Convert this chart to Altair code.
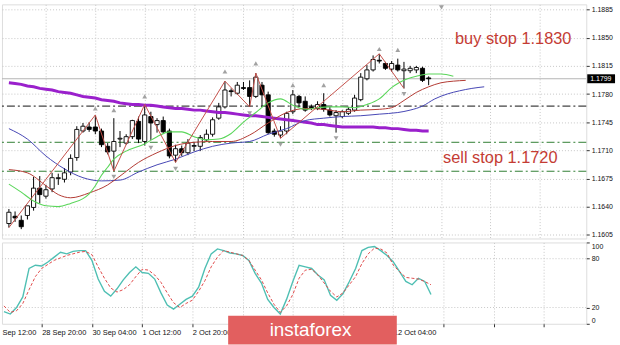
import json
import altair as alt
import pandas as pd

# ---------------- data ----------------
opens = [1.1619, 1.1628, 1.1623, 1.1629, 1.1639, 1.1663, 1.1653, 1.1662, 1.1675, 1.1674,
         1.1683, 1.1701, 1.1734, 1.1739, 1.1739, 1.1734, 1.1715, 1.1709, 1.1724, 1.1719,
         1.1727, 1.1746, 1.1721, 1.1752, 1.1742, 1.1747, 1.1734, 1.1704, 1.1712, 1.1707,
         1.1715, 1.1715, 1.1723, 1.1730, 1.1750, 1.1764, 1.1784, 1.1781, 1.1788, 1.1788,
         1.1777, 1.1791, 1.1779, 1.1734, 1.1729, 1.1734, 1.1758, 1.1777, 1.1771, 1.1764,
         1.1762, 1.1767, 1.1760, 1.1753, 1.1752, 1.1756, 1.1760, 1.1773, 1.1799, 1.1810,
         1.1822, 1.1818, 1.1811, 1.1816, 1.1809, 1.1809, 1.1810, 1.1812, 1.1800]
highs = [1.1637, 1.1634, 1.1629, 1.1637, 1.1677, 1.1678, 1.1667, 1.1682, 1.1681, 1.1688,
         1.1705, 1.1740, 1.1744, 1.1745, 1.1754, 1.1737, 1.1719, 1.1750, 1.1734, 1.1730,
         1.1748, 1.1752, 1.1767, 1.1758, 1.1750, 1.1752, 1.1737, 1.1717, 1.1716, 1.1724,
         1.1720, 1.1729, 1.1736, 1.1751, 1.1769, 1.1796, 1.1787, 1.1795, 1.1795, 1.1797,
         1.1806, 1.1795, 1.1783, 1.1737, 1.1740, 1.1758, 1.1785, 1.1779, 1.1777, 1.1767,
         1.1771, 1.1781, 1.1764, 1.1760, 1.1760, 1.1764, 1.1779, 1.1806, 1.1816, 1.1828,
         1.1830, 1.1820, 1.1821, 1.1824, 1.1820, 1.1815, 1.1815, 1.1814, 1.1802]
lows = [1.1614, 1.1621, 1.1612, 1.1624, 1.1635, 1.1644, 1.1650, 1.1658, 1.1667, 1.1670,
        1.1679, 1.1697, 1.1732, 1.1733, 1.1730, 1.1714, 1.1705, 1.1684, 1.1714, 1.1717,
        1.1724, 1.1719, 1.1716, 1.1723, 1.1732, 1.1731, 1.1700, 1.1695, 1.1703, 1.1704,
        1.1709, 1.1709, 1.1721, 1.1727, 1.1748, 1.1762, 1.1777, 1.1779, 1.1785, 1.1764,
        1.1775, 1.1764, 1.1730, 1.1727, 1.1725, 1.1730, 1.1755, 1.1764, 1.1758, 1.1760,
        1.1760, 1.1758, 1.1752, 1.1732, 1.1750, 1.1754, 1.1758, 1.1771, 1.1797, 1.1808,
        1.1818, 1.1810, 1.1808, 1.1808, 1.1787, 1.1806, 1.1806, 1.1795, 1.1791]
closes = [1.1633, 1.1626, 1.1615, 1.1641, 1.1663, 1.1655, 1.1661, 1.1676, 1.1676, 1.1682,
          1.1700, 1.1736, 1.1740, 1.1736, 1.1734, 1.1717, 1.1708, 1.1721, 1.1725, 1.1727,
          1.1747, 1.1724, 1.1754, 1.1744, 1.1747, 1.1733, 1.1703, 1.1712, 1.1707, 1.1719,
          1.1716, 1.1726, 1.1730, 1.1748, 1.1764, 1.1785, 1.1783, 1.1791, 1.1787, 1.1777,
          1.1801, 1.1779, 1.1732, 1.1730, 1.1734, 1.1756, 1.1779, 1.1769, 1.1760, 1.1763,
          1.1767, 1.1761, 1.1754, 1.1757, 1.1758, 1.1761, 1.1775, 1.1801, 1.1810, 1.1823,
          1.1821, 1.1812, 1.1818, 1.1810, 1.1811, 1.1812, 1.1813, 1.1797, 1.1799]

stoch_k = [15, 12, 20, 33, 68, 72, 71, 76, 82, 88, 86, 89, 90, 90, 78, 55, 40, 34, 43, 54,
           63, 70, 63, 62, 55, 38, 23, 18, 24, 30, 34, 45, 68, 86, 92, 90, 87, 86, 84, 78,
           62, 50, 30, 20, 12, 30, 52, 72, 70, 68, 60, 54, 35, 29, 37, 52, 68, 90, 94, 95,
           90, 84, 76, 64, 52, 48, 56, 52, 36]
stoch_d = [22, 14, 16, 25, 42, 58, 68, 73, 78, 81, 84, 86, 88, 89, 85, 70, 56, 44, 39, 42,
           48, 58, 67, 66, 60, 51, 38, 26, 20, 25, 29, 40, 53, 70, 82, 90, 88, 86, 84, 78,
           66, 54, 38, 24, 14, 22, 36, 56, 66, 67, 60, 50, 40, 33, 38, 48, 58, 74, 86, 93,
           92, 87, 72, 64, 57, 56, 55, 52, 48]

ma_purple = [1.1794, 1.1793, 1.1792, 1.1790, 1.1789, 1.1787, 1.1786, 1.1785, 1.1783, 1.1782,
             1.1781, 1.1779, 1.1777, 1.1776, 1.1775, 1.1773, 1.1772, 1.1771, 1.1769, 1.1768,
             1.1767, 1.1767, 1.1766, 1.1766, 1.1765, 1.1764, 1.1763, 1.1762, 1.1762, 1.1761,
             1.1760, 1.1760, 1.1759, 1.1758, 1.1757, 1.1757, 1.1756, 1.1755, 1.1754, 1.1753,
             1.1753, 1.1752, 1.1751, 1.1750, 1.1749, 1.1748, 1.1747, 1.1746, 1.1745, 1.1744,
             1.1742, 1.1742, 1.1741, 1.1740, 1.1739, 1.1739, 1.1739, 1.1739, 1.1739, 1.1739,
             1.1738, 1.1738, 1.1737, 1.1737, 1.1736, 1.1735, 1.1735, 1.1734, 1.1734]

ma_blue_i = [0, 3, 6, 9, 12, 15, 18, 21, 24, 27, 30, 33, 36, 39, 42, 45, 48, 51, 54, 57,
             60, 63, 65, 67, 69, 71, 73, 75, 77]
ma_blue_p = [1.1737, 1.1724, 1.1703, 1.1687, 1.1676, 1.1672, 1.1673, 1.1683, 1.1692, 1.1699,
             1.1708, 1.1715, 1.1719, 1.1721, 1.1730, 1.1737, 1.1747, 1.1750, 1.1752, 1.1753,
             1.1755, 1.1757, 1.1760, 1.1765, 1.1774, 1.1780, 1.1784, 1.1787, 1.1789]

ma_red_i = [0, 3, 6, 8, 10, 13, 16, 18, 21, 24, 27, 30, 33, 36, 39, 42, 45, 48, 51, 54,
            57, 60, 62, 64, 66, 68, 70, 72, 74]
ma_red_p = [1.1686, 1.1682, 1.1666, 1.1655, 1.1651, 1.1657, 1.1667, 1.1678, 1.1695, 1.1707,
            1.1716, 1.1720, 1.1721, 1.1721, 1.1729, 1.1744, 1.1757, 1.1762, 1.1761, 1.1758,
            1.1760, 1.1761, 1.1763, 1.1772, 1.1782, 1.1789, 1.1794, 1.1796, 1.1797]

ma_green_i = [0, 2, 4, 6, 8, 10, 12, 13, 14, 15, 16, 17, 19, 22, 24, 26, 28, 30, 32, 34,
              36, 38, 40, 42, 44, 46, 48, 50, 52, 54, 56, 58, 60, 62, 63, 64, 66, 68, 70, 72]
ma_green_p = [1.1668, 1.1658, 1.1647, 1.1641, 1.1640, 1.1644, 1.1650, 1.1656, 1.1666, 1.1679,
              1.1689, 1.1699, 1.1709, 1.1718, 1.1727, 1.1733, 1.1733, 1.1727, 1.1723, 1.1724,
              1.1731, 1.1745, 1.1757, 1.1769, 1.1774, 1.1766, 1.1761, 1.1763, 1.1764, 1.1764,
              1.1763, 1.1767, 1.1774, 1.1788, 1.1793, 1.1797, 1.1802, 1.1805, 1.1805, 1.1802]

zigzag_i = [0, 14, 17, 22, 27, 35, 39, 40, 44, 60, 64]
zigzag_p = [1.1614, 1.1754, 1.1684, 1.1767, 1.1695, 1.1796, 1.1764, 1.1806, 1.1725, 1.1830, 1.1787]

fractal_up_i = [14, 17, 22, 35, 40, 46, 51, 60, 63]
fractal_up_p = [1.1762, 1.1760, 1.1777, 1.1808, 1.1818, 1.1791, 1.1791, 1.1836, 1.1835]
fractal_dn_i = [17, 23, 27, 39, 44, 53, 64]
fractal_dn_p = [1.1677, 1.1713, 1.1687, 1.1756, 1.1717, 1.1725, 1.1780]

bid_price = 1.1799
bid_label = "1.1799"
level_black = [1.1765]
level_green = [1.1720, 1.1684]
stoch_levels = [20, 80]

price_ticks = [1.1885, 1.1850, 1.1815, 1.1780, 1.1745, 1.1710, 1.1675, 1.1640, 1.1605]
stoch_ticks = [0, 20, 80, 100]
x_tick_idx = [6, 14, 22, 30, 38, 46, 54, 62, 70, 78, 86]
# labels at 6 Oct 04:00, 7 Oct 12:00 and 8 Oct 20:00 are hidden under the banner in the reference
x_tick_labels = ["28 Sep 20:00", "30 Sep 04:00", "1 Oct 12:00", "2 Oct 20:00",
                 "", "", "", "12 Oct 04:00"]
first_label = "Sep 12:00"  # truncated "25 Sep 12:00" at the left edge

notes_text = ["buy stop 1.1830", "sell stop 1.1720"]
notes_i = [81.7, 79.6]
notes_p = [1.1849, 1.1701]

# ---------------- layout ----------------
W, H1, H2 = 589, 236, 82
FONT = "Liberation Sans"
GRID = "#c6c6c6"
DASH = [1, 2]

xs = alt.Scale(domain=[-0.316, 92.73], nice=False, zero=False)
ps = alt.Scale(domain=[1.16004, 1.18915], nice=False, zero=False)
ss = alt.Scale(domain=[0, 100], nice=False, zero=False)

x_top_axis = alt.Axis(values=x_tick_idx, grid=True, gridDash=DASH, gridColor=GRID,
                      labels=False, ticks=False, domain=False, title=None)
y_top_axis = alt.Axis(orient="right", values=price_ticks, format=".4f", grid=True,
                      gridDash=DASH, gridColor=GRID, tickSize=3, tickColor="#333333",
                      labelPadding=2, labelFontSize=7, labelColor="#111111",
                      labelFont=FONT, domain=False, title=None)

step = x_tick_idx[1] - x_tick_idx[0]
last_lab = x_tick_idx[len(x_tick_labels) - 1]
label_expr = (f"datum.value <= {last_lab} ? {json.dumps(x_tick_labels)}"
              f"[round((datum.value - {x_tick_idx[0]}) / {step})] : ''")
x_bot_axis = alt.Axis(values=x_tick_idx, grid=True, gridDash=DASH, gridColor=GRID,
                      labelExpr=label_expr, labelAlign="left",
                      labelFontSize=7.5, labelFont=FONT, labelColor="#111111",
                      labelOverlap=False, tickSize=3, tickColor="#333333",
                      labelPadding=2, domain=False, title=None)
y_bot_axis = alt.Axis(orient="right", values=stoch_ticks, labelFlush=True, grid=False,
                      tickSize=3, tickColor="#333333", labelPadding=2, labelFontSize=7,
                      labelFont=FONT, labelColor="#111111", domain=False, title=None)


def X(field="i"):
    return alt.X(f"{field}:Q", scale=xs, axis=x_top_axis)


def P(field="p"):
    return alt.Y(f"{field}:Q", scale=ps, axis=y_top_axis)


def XB(field="i"):
    return alt.X(f"{field}:Q", scale=xs, axis=x_bot_axis)


def S(field="v"):
    return alt.Y(f"{field}:Q", scale=ss, axis=y_bot_axis)


idx = list(range(len(opens)))
cd = pd.DataFrame(dict(i=idx, open=opens, high=highs, low=lows, close=closes))
cd["dir"] = ["up" if c >= o else "down" for o, c in zip(opens, closes)]

# horizontal level lines
bid_line = alt.Chart(pd.DataFrame({"p": [bid_price]})).mark_rule(
    color="#b4b4b4", strokeWidth=1).encode(y=P())
black_line = alt.Chart(pd.DataFrame({"p": level_black})).mark_rule(
    color="#111111", strokeWidth=1, strokeDash=[8, 3, 2, 3]).encode(y=P())
green_line = alt.Chart(pd.DataFrame({"p": level_green})).mark_rule(
    color="#2f7d32", strokeWidth=1, strokeDash=[8, 3, 2, 3]).encode(y=P())

wick = alt.Chart(cd).mark_rule(color="#000000", strokeWidth=1).encode(
    x=X(), y=P("low"), y2="high")
body = alt.Chart(cd).mark_bar(width=4.2, stroke="#000000", strokeWidth=0.9).encode(
    x=X(), y=P("open"), y2="close",
    fill=alt.Fill("dir:N", scale=alt.Scale(domain=["up", "down"], range=["#ffffff", "#000000"]),
                  legend=None))


def ma_layer(ii, pp, color, width, interp):
    df = pd.DataFrame({"i": ii, "p": pp})
    return alt.Chart(df).mark_line(color=color, strokeWidth=width, interpolate=interp).encode(
        x=X(), y=P())


purple = ma_layer(list(range(len(ma_purple))), ma_purple, "#9a20cc", 3, "linear")
blue = ma_layer(ma_blue_i, ma_blue_p, "#4646b4", 1, "monotone")
red = ma_layer(ma_red_i, ma_red_p, "#b23a33", 1, "monotone")
green = ma_layer(ma_green_i, ma_green_p, "#5ad65a", 1.1, "monotone")
zigzag = ma_layer(zigzag_i, zigzag_p, "#c4504a", 1, "linear")

fr_up = alt.Chart(pd.DataFrame({"i": fractal_up_i, "p": fractal_up_p})).mark_point(
    shape="triangle-up", filled=True, size=24, color="#a2a2a2", opacity=1).encode(x=X(), y=P())
fr_dn = alt.Chart(pd.DataFrame({"i": fractal_dn_i, "p": fractal_dn_p})).mark_point(
    shape="triangle-down", filled=True, size=24, color="#a2a2a2", opacity=1).encode(x=X(), y=P())

notes = alt.Chart(pd.DataFrame({"t": notes_text, "i": notes_i, "p": notes_p})).mark_text(
    font=FONT, fontSize=16.5, color="#c43c34", align="center", baseline="middle").encode(
    x=X(), y=P(), text="t:N")

bid_df = pd.DataFrame({"p": [bid_price], "t": [bid_label]})
bid_tag = alt.Chart(bid_df).mark_rule(color="#000000", strokeWidth=9, strokeCap="butt").encode(
    x=alt.value(W + 1), x2=alt.value(W + 29), y=P())
bid_txt = alt.Chart(bid_df).mark_text(font=FONT, fontSize=7, color="#ffffff", align="left",
                                      baseline="middle").encode(
    x=alt.value(W + 4), y=P(), text="t:N")

shift_mark = alt.Chart(pd.DataFrame({"k": [1]})).mark_point(
    shape="triangle-down", filled=True, size=26, color="#a0a0a0", opacity=1).encode(
    x=alt.value(443), y=alt.value(3))

top = alt.layer(bid_line, black_line, green_line, wick, body, purple, blue, red, green,
                zigzag, fr_up, fr_dn, notes, bid_tag, bid_txt, shift_mark).properties(
    width=W, height=H1)

# ---------------- stochastic panel ----------------
sd = pd.DataFrame({"i": idx, "k": stoch_k, "d": stoch_d})
lv = alt.Chart(pd.DataFrame({"v": stoch_levels})).mark_rule(
    color=GRID, strokeDash=DASH, strokeWidth=1).encode(y=S())
k_line = alt.Chart(sd).mark_line(color="#4fbfb3", strokeWidth=1.4).encode(x=XB(), y=S("k"))
d_line = alt.Chart(sd).mark_line(color="#e04a4a", strokeWidth=1, strokeDash=[3, 2]).encode(
    x=XB(), y=S("d"))
first_txt = alt.Chart(pd.DataFrame({"t": [first_label]})).mark_text(
    font=FONT, fontSize=7.5, color="#111111", align="left", baseline="top").encode(
    x=alt.value(0.5), y=alt.value(H2 + 5), text="t:N")
banner = alt.Chart(pd.DataFrame({"k": [1]})).mark_rect(color="#e25f5f").encode(
    x=alt.value(228), x2=alt.value(398), y=alt.value(74), y2=alt.value(103))
banner_txt = alt.Chart(pd.DataFrame({"t": ["instaforex"]})).mark_text(
    font=FONT, fontSize=19, color="#ffffff", align="center", baseline="middle").encode(
    x=alt.value(311), y=alt.value(88.5), text="t:N")

bottom = alt.layer(lv, k_line, d_line, first_txt, banner, banner_txt).properties(
    width=W, height=H2)

chart = alt.vconcat(top, bottom, spacing=4, bounds="flush").properties(
    padding={"left": 0, "top": 2, "right": 0, "bottom": 0},
    background="#ffffff",
).configure_view(stroke="#3a3a3a", strokeWidth=1).configure_axis(zindex=0).configure(font=FONT)

chart.save("out.html", embed_options={"renderer": "svg", "actions": False})
